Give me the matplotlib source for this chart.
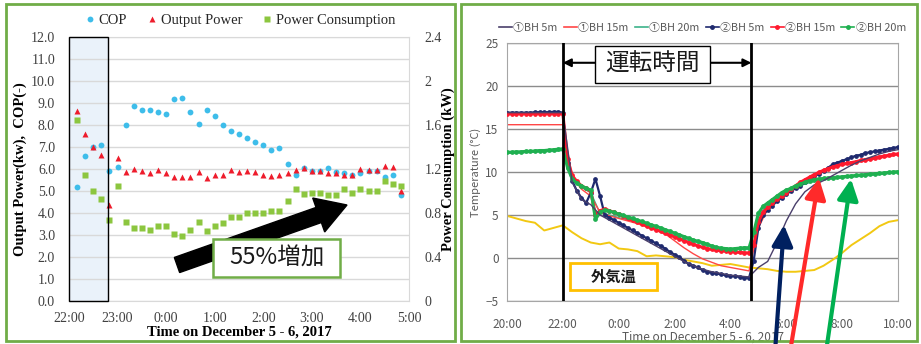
import matplotlib.pyplot as plt
import numpy as np
from matplotlib.patches import Rectangle, FancyArrow
from matplotlib.lines import Line2D

plt.rcParams['font.family'] = ['Liberation Serif']

# ---- left: heat pump run, 10-minute samples 22:10 .. 4:50 ----
minutes = np.arange(10, 411, 10)          # minutes after 22:00
cop = [5.2, 6.6, 7.0, 7.1, 5.9, 6.1, 8.0, 8.85, 8.7, 8.7,
       8.6, 8.5, 9.2, 9.25, 8.6, 8.05, 8.7, 8.4, 8.0, 7.75,
       7.6, 7.4, 7.25, 7.1, 6.85, 6.95, 6.25, 5.75, 6.05, 5.9,
       5.9, 6.05, 5.85, 5.8, 5.75, 5.8, 5.9, 5.9, 5.65, 5.75, 4.8]
output_power = [8.65, 7.6, 7.0, 6.65, 4.35, 6.5, 5.85, 6.0, 5.9, 5.8,
                5.95, 5.8, 5.65, 5.65, 5.65, 5.85, 5.6, 5.75, 5.75, 5.95,
                5.85, 5.9, 5.85, 5.75, 5.7, 5.75, 5.8, 5.95, 6.05, 5.9,
                5.9, 5.8, 5.8, 5.75, 5.75, 6.0, 5.95, 5.95, 6.15, 6.1, 5.0]
power_consumption = [1.65, 1.15, 1.0, 0.93, 0.74, 1.05, 0.72, 0.66, 0.66, 0.65,
                     0.68, 0.68, 0.61, 0.59, 0.65, 0.72, 0.64, 0.68, 0.71, 0.76,
                     0.76, 0.80, 0.80, 0.80, 0.82, 0.82, 0.91, 1.02, 0.97, 0.98,
                     0.98, 0.96, 0.96, 1.02, 0.98, 1.02, 1.0, 1.0, 1.09, 1.06, 1.05]
left_ticks = ['22:00', '23:00', '0:00', '1:00', '2:00', '3:00', '4:00', '5:00']
startup_end = 0.8   # hours after 22:00 (shaded start-up period)

# ---- right: borehole temperatures, 20:00 .. 10:00 ----
t10 = np.arange(85) / 6    # hours after 20:00, 10-minute logger
t20 = np.arange(43) / 3    # hours after 20:00, 20-minute logger
bh2_5m = [16.9, 16.9, 16.9, 16.9, 16.9, 16.9, 16.95, 16.95, 16.95, 16.95, 17.0, 17.0, 16.9,
          11.0, 9.0, 7.8, 7.0, 6.4, 7.6, 9.2, 7.2, 5.0,
          4.7, 4.4, 4.1, 3.8, 3.5, 3.2, 2.9, 2.6, 2.3, 2.0, 1.7, 1.4, 1.1, 0.7, 0.4, 0.1,
          -0.3, -0.7, -0.9, -1.1, -1.4, -1.6, -1.7, -1.8, -1.9, -2.0, -2.1, -2.1, -2.2, -2.3, -2.3,
          -0.3, 3.5, 5.0, 5.6, 6.1, 6.6, 7.0, 7.4, 7.8, 8.1, 8.4, 8.8, 9.2, 9.5, 9.8, 10.1,
          10.5, 10.9, 11.1, 11.3, 11.5, 11.7, 11.9, 12.0, 12.2, 12.3, 12.4, 12.5, 12.6, 12.7,
          12.8, 12.9]
bh2_15m = [16.8] * 13 + [
          11.5, 9.6, 8.9, 8.4, 8.1, 7.7, 5.0, 5.5, 5.7,
          5.5, 5.3, 5.1, 4.85, 4.6, 4.4, 4.2, 4.0, 3.75, 3.5, 3.3, 3.1, 2.9, 2.65, 2.45, 2.25,
          2.0, 1.8, 1.6, 1.4, 1.25, 1.1, 1.0, 0.9, 0.85, 0.8, 0.75, 0.7, 0.65, 0.6, 0.6,
          1.5, 4.2, 5.3, 5.9, 6.4, 6.9, 7.2, 7.6, 8.0, 8.4, 8.8, 9.1, 9.4, 9.7, 9.95, 10.2,
          10.4, 10.6, 10.75, 10.9, 11.0, 11.1, 11.2, 11.35, 11.45, 11.55, 11.65, 11.75, 11.85,
          11.95, 12.05, 12.1]
bh2_20m = [12.3, 12.3, 12.35, 12.35, 12.4, 12.4, 12.45, 12.5, 12.5, 12.55, 12.6, 12.65, 12.7,
           10.5, 9.2, 8.7, 8.4, 8.1, 7.9, 4.5, 5.3, 5.6,
           5.45, 5.3, 5.1, 4.95, 4.75, 4.6, 4.4, 4.25, 4.05, 3.85, 3.7, 3.5, 3.3, 3.1, 2.9, 2.7,
           2.5, 2.3, 2.1, 1.95, 1.8, 1.6, 1.4, 1.25, 1.15, 1.1, 1.05, 1.1, 1.15, 1.2, 1.2,
           3.0, 5.2, 6.0, 6.4, 6.8, 7.2, 7.6, 7.9, 8.1, 8.4, 8.6, 8.8, 9.0, 9.1, 9.2, 9.25,
           9.3, 9.35, 9.4, 9.45, 9.5, 9.55, 9.6, 9.65, 9.7, 9.75, 9.8, 9.85, 9.9, 9.95, 10.0, 10.05]
bh1_5m = [16.9] * 7 + [
          8.8, 6.8, 6.2, 5.0, 4.4, 3.8, 3.2, 2.6, 2.0, 1.4, 0.8, 0.2, -0.4, -0.9, -1.3, -1.6,
          -1.8, -2.0, -2.1, -2.2,
          -1.1, -0.4, 1.8, 4.3, 6.3, 7.7, 8.5, 9.0, 9.6, 10.2, 10.8, 11.3, 11.7, 12.1, 12.4, 12.6]
bh1_15m = [15.5] * 7 + [
           9.5, 8.0, 7.2, 5.3, 4.9, 4.6, 4.3, 4.0, 3.6, 3.3, 2.8, 2.0, 1.2, 0.5, -0.1, -0.5,
           -0.9, -1.1, -1.3, -1.5,
           3.5, 5.7, 6.8, 7.5, 8.3, 9.0, 9.6, 10.1, 10.5, 10.8, 11.0, 11.2, 11.4, 11.6, 11.8, 12.0]
bh1_20m = [12.2, 12.2, 12.25, 12.3, 12.35, 12.4, 12.5,
           9.0, 8.2, 7.6, 5.2, 5.0, 4.7, 4.4, 4.1, 3.7, 3.4, 3.0, 2.6, 2.2, 1.9, 1.6, 1.3,
           1.1, 1.0, 1.0, 1.0,
           4.8, 6.2, 7.0, 7.7, 8.2, 8.6, 8.9, 9.1, 9.2, 9.3, 9.4, 9.5, 9.6, 9.7, 9.8, 9.9]
outdoor = [4.9, 4.6, 4.3, 4.1, 3.2, 3.5, 3.8, 3.0, 2.3, 1.8, 1.6, 1.8, 1.1, 1.0, 0.8,
           0.2, 0.3, 0.2, 0.1, -0.2, -0.4, -0.6, -0.9, -0.8, -0.7, -0.9, -1.1, -1.2, -1.3,
           -1.5, -1.6, -1.6, -1.5, -1.4, -0.9, -0.2, 0.6, 1.5, 2.2, 2.9, 3.7, 4.2, 4.4]
right_ticks = ['20:00', '22:00', '0:00', '2:00', '4:00', '6:00', '8:00', '10:00']
op_start, op_end = 2.0, 8.75   # heat pump running, hours after 20:00

JP = ['Noto Sans CJK JP', 'DejaVu Sans']
GREEN_FRAME = '#70ad47'

W, H = 921, 344
def px_rect(x0, y0, x1, y1):
    return [x0 / W, 1 - y1 / H, (x1 - x0) / W, (y1 - y0) / H]

fig = plt.figure(figsize=(W / 100, H / 100), dpi=100)

# ================= left chart =================
ax1 = fig.add_axes(px_rect(69, 37, 409, 301))
ax1r = ax1.twinx()
hours = minutes / 60

ax1.plot(hours, cop, 'o', color='#3ebdea', ms=4.2, mec='none', zorder=3, label='COP')
ax1.plot(hours, output_power, '^', color='#ee1c2c', ms=4.5, mec='none', zorder=3, label='Output Power')
ax1r.plot(hours, power_consumption, 's', color='#8cc63f', ms=4.2, mec='none', label='Power Consumption')

ax1.set_xlim(0, 7)
ax1.set_ylim(0, 12)
ax1r.set_ylim(0, 2.4)

# start-up period: pale fill under the grid, black outline over everything
ax1.add_patch(Rectangle((0, 0), startup_end, 12, fc='#eaf2fa', ec='none', zorder=0.3))
ax1r.add_patch(Rectangle((0, 0), startup_end, 2.4, fill=False, ec='black', lw=1.0,
                         zorder=2.7, clip_on=False))

ax1.set_xticks(range(8), left_ticks)
ax1.set_yticks(range(13), [f'{v:.1f}' for v in range(13)])
ax1r.set_yticks([0, 0.4, 0.8, 1.2, 1.6, 2.0, 2.4], ['0', '0.4', '0.8', '1.2', '1.6', '2', '2.4'])
ax1.grid(axis='y', color='#d9d9d9', lw=1.0)
ax1.set_axisbelow(True)
for s in ax1.spines.values():
    s.set_color('#d9d9d9')
for s in ax1r.spines.values():
    s.set_visible(False)
ax1.tick_params(length=0, labelsize=10, labelcolor='#404040')
ax1.tick_params(axis='y', pad=10)
ax1.tick_params(axis='x', pad=8)
ax1r.tick_params(length=0, labelsize=10, labelcolor='#404040', pad=11)
ax1.set_ylabel('Output Power(kw),  COP(-)', fontweight='bold', fontsize=10.5, labelpad=3)
ax1r.set_ylabel('Power Consumption (kW)', fontweight='bold', fontsize=10.5, labelpad=0)
ax1.set_xlabel('Time on December 5 - 6, 2017', fontweight='bold', fontsize=10.5, labelpad=0)

h1, l1 = ax1.get_legend_handles_labels()
h2, l2 = ax1r.get_legend_handles_labels()
ax1.legend(h1 + h2, l1 + l2, ncol=3, loc='lower center', bbox_to_anchor=(0.5, 1.0),
           frameon=False, fontsize=10.5, handletextpad=0.1, columnspacing=1.2,
           handlelength=1.0, borderaxespad=0.3, labelcolor='#262626')

# ================= right chart =================
ax2 = fig.add_axes(px_rect(507, 43, 898, 301))
ax2.plot(t20, outdoor, color='#f2c812', lw=1.4, zorder=2)
ax2.plot(t20, bh1_20m, color='#3cb38a', lw=1.0, zorder=2)
ax2.plot(t20, bh1_15m, color='#ff4747', lw=1.0, zorder=2)
ax2.plot(t20, bh1_5m, color='#4a3f6b', lw=1.0, zorder=4)
ax2.plot(t10, bh2_5m, color='#1f2a6e', lw=1.6, marker='o', ms=2.4, zorder=3)
ax2.plot(t10, bh2_15m, color='#ff1a2e', lw=2.2, marker='o', ms=2.4, zorder=3)
ax2.plot(t10, bh2_20m, color='#1fb050', lw=2.2, marker='o', ms=2.4, zorder=3)
ax2.axvline(op_start, color='black', lw=2.0, zorder=5)
ax2.axvline(op_end, color='black', lw=2.0, zorder=5)

ax2.set_xlim(0, 14)
ax2.set_ylim(-5, 25)
ax2.set_xticks(range(0, 15, 2), right_ticks)
ax2.set_yticks(range(-5, 26, 5))
ax2.grid(axis='y', color='#8c8c8c', lw=1.0)
ax2.set_axisbelow(True)
for s in ax2.spines.values():
    s.set_color('#a6a6a6')
ax2.tick_params(length=0, labelsize=8.5, labelcolor='#595959')
ax2.tick_params(axis='x', pad=12)
ax2.tick_params(axis='y', pad=6)
for lab in ax2.get_xticklabels() + ax2.get_yticklabels():
    lab.set_fontfamily(JP)
ax2.set_ylabel('Temperature (°C)', fontsize=8, family=JP, color='#595959', labelpad=3)
ax2.set_xlabel('Time on December 5 - 6, 2017', fontsize=8.5, family=JP, color='#595959', labelpad=0)

leg_handles = [
    Line2D([], [], color='#4a3f6b', lw=1.2, label='①BH 5m'),
    Line2D([], [], color='#ff4747', lw=1.2, label='①BH 15m'),
    Line2D([], [], color='#3cb38a', lw=1.2, label='①BH 20m'),
    Line2D([], [], color='#1f2a6e', lw=1.2, marker='o', ms=2.5, label='②BH 5m'),
    Line2D([], [], color='#ff1a2e', lw=1.2, marker='o', ms=2.5, label='②BH 15m'),
    Line2D([], [], color='#1fb050', lw=1.2, marker='o', ms=2.5, label='②BH 20m'),
]
ax2.legend(handles=leg_handles, ncol=6, loc='lower center', bbox_to_anchor=(0.5, 1.0),
           frameon=False, prop={'family': JP, 'size': 7.8}, labelcolor='#595959',
           handlelength=1.2, handletextpad=0.1, columnspacing=0.6, borderaxespad=0.5)

ax2.annotate('', xy=(op_end, 22.7), xytext=(op_start, 22.7),
             arrowprops=dict(arrowstyle='<|-|>', color='black', lw=1.5,
                             mutation_scale=12, shrinkA=0, shrinkB=0), zorder=6)

# ================= overlay: frames and call-outs (pixel coords) =================
ov = fig.add_axes([0, 0, 1, 1], zorder=5)
ov.set_xlim(0, W)
ov.set_ylim(H, 0)
ov.axis('off')

ov.add_patch(Rectangle((6, 4), 449, 337, fill=False, ec=GREEN_FRAME, lw=2.0))
ov.add_patch(Rectangle((461, 4), 456, 337, fill=False, ec=GREEN_FRAME, lw=2.0))

ov.add_patch(FancyArrow(177, 265, 170, -60, width=16, head_width=36, head_length=30,
                        length_includes_head=True, color='black', zorder=3))
ov.add_patch(Rectangle((213, 239), 127, 38, fc='white', ec=GREEN_FRAME, lw=1.8, zorder=4))
ov.text(276.5, 258, '55%増加', family=JP, fontsize=17, ha='center', va='center',
        color='#1a1a1a', zorder=5)

ov.add_patch(Rectangle((595, 46), 115, 37, fc='white', ec='black', lw=1.0, zorder=4))
ov.text(652.5, 64.5, '運転時間', family=JP, fontsize=17, ha='center', va='center',
        color='#1a1a1a', zorder=5)

ov.add_patch(Rectangle((570, 263), 87, 27, fc='white', ec='#ffc000', lw=2.0, zorder=4))
ov.text(613.5, 276.5, '外気温', family=JP, fontsize=11, fontweight='bold',
        ha='center', va='center', color='#1a1a1a', zorder=5)

for (x0, y0, x1, y1, c) in [(775, 352, 784, 225, '#002060'),
                             (790, 352, 819, 178, '#ff2a2a'),
                             (826, 352, 851, 179, '#00b050')]:
    ov.annotate('', xy=(x1, y1), xytext=(x0, y0), annotation_clip=False,
                arrowprops=dict(arrowstyle='-|>,head_length=0.9,head_width=0.45', color=c,
                                lw=3.0, mutation_scale=14, shrinkA=0, shrinkB=0))

fig.savefig('out.png', dpi=100)
